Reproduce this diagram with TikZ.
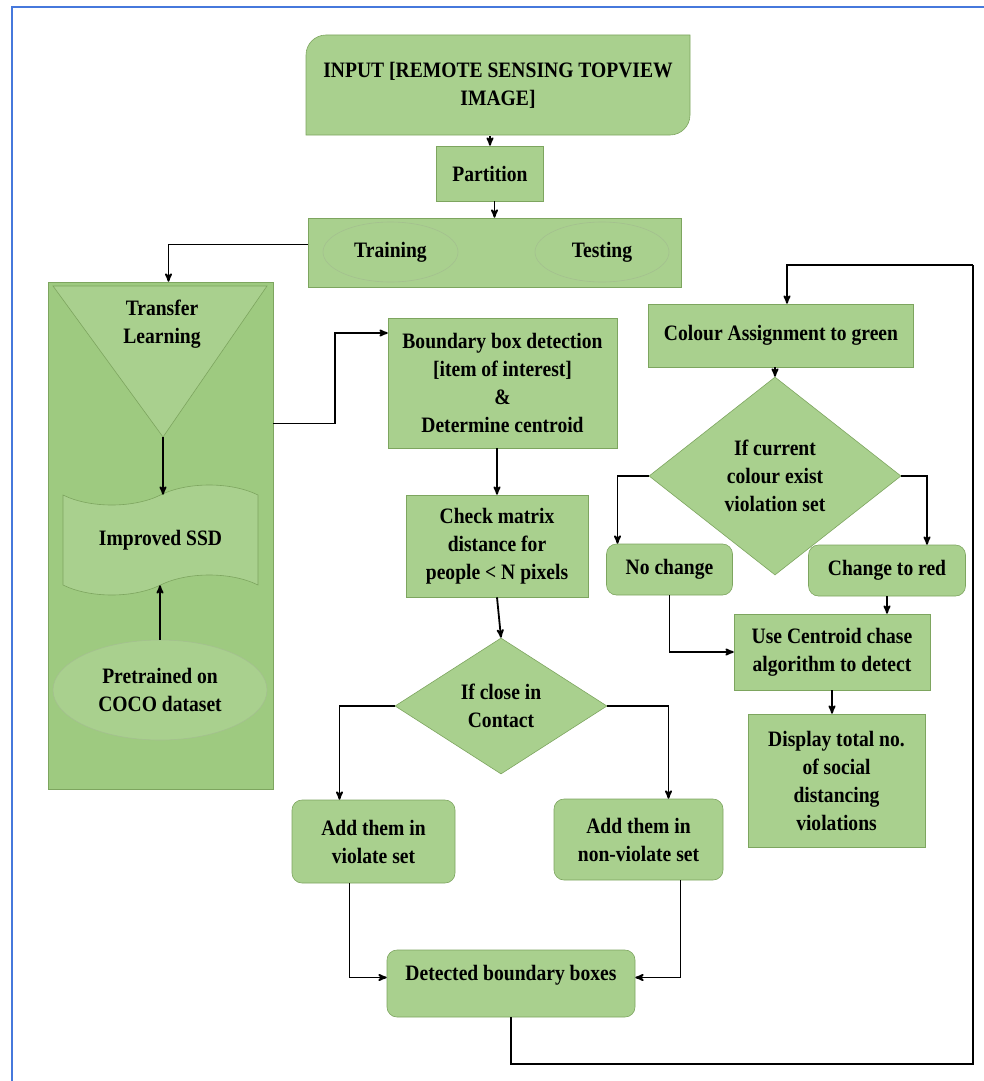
\documentclass[tikz,border=0pt]{standalone}
\usepackage{fontspec}
\setmainfont{Liberation Serif}[FakeStretch=0.89]
\usetikzlibrary{arrows,positioning,calc,shapes.geometric,shapes.symbols}
\definecolor{boxgreen}{RGB}{169,208,142}
\definecolor{bigrgreen}{RGB}{158,202,128}
\definecolor{edgegreen}{RGB}{125,165,95}
\definecolor{framecol}{RGB}{70,120,220}

\begin{document}
\begin{tikzpicture}[x=1pt, y=1pt, ->, >=stealth', line width=1.8pt]
\tikzstyle{every node}=[font=\bfseries\fontsize{22}{28}\selectfont, align=center, text=black]
\tikzstyle{box}=[draw=edgegreen, fill=boxgreen, line width=0.6pt, inner sep=2pt]
\tikzstyle{rbox}=[box, rounded corners=10pt]
\tikzstyle{oval}=[box, ellipse]
\tikzstyle{decide}=[box, diamond, inner sep=0pt]
\tikzstyle{greenfill}=[draw=edgegreen, fill=boxgreen, line width=0.6pt, -]
\tikzstyle{link}=[-]
\useasboundingbox (0,0) rectangle (984,-1081);
\draw[-, framecol, line width=2pt] (12,-1081) -- (12,-7) -- (984,-7);

% top part
\draw[greenfill] (306,-135) -- (306,-55) arc[start angle=180, end angle=90, radius=20]
  -- (690,-35) -- (690,-115) arc[start angle=0, end angle=-90, radius=20] -- cycle;
\node[minimum width=384, minimum height=100] (in) at (498,-85) {INPUT [REMOTE SENSING TOPVIEW\\IMAGE]};
\node[box, minimum width=107, minimum height=55] (part) at (490,-173.5) {Partition};
\node[box, minimum width=373, minimum height=69] (tt) at (494.5,-252.5) {};
\node[oval, draw=edgegreen!70, minimum width=135, minimum height=60] (train) at (390.5,-252) {Training};
\node[oval, draw=edgegreen!70, minimum width=134, minimum height=60] (test) at (602,-252) {Testing};

% left column
\node[box, fill=bigrgreen, minimum width=225, minimum height=507] (big) at (160.5,-535.5) {};
\draw[greenfill] (53,-286) -- (267,-286) -- (163,-437) -- cycle;
\coordinate (apex) at (163,-437);
\node (tl) at (162,-324) {Transfer\\Learning};
\node[box, tape, tape bend top=in and out, tape bend bottom=in and out, tape bend height=20,
  minimum width=195, minimum height=110] (ssd) at (160.5,-540) {Improved SSD};
\node[oval, draw=edgegreen!70, minimum width=214, minimum height=100] (pre) at (160,-690) {Pretrained on\\COCO dataset};

% middle column
\node[box, minimum width=229, minimum height=130] (bb) at (502.5,-383) {Boundary box detection\\{[item of interest]}\\\&\\Determine centroid};
\node[box, minimum width=182, minimum height=102] (chk) at (497,-546) {Check matrix\\distance for\\people < N pixels};
\node[decide, minimum width=212, minimum height=136] (d1) at (501,-706) {If close in\\Contact};
\node[rbox, minimum width=163, minimum height=83] (viol) at (373.5,-841.5) {Add them in\\violate set};
\node[rbox, minimum width=169, minimum height=81] (nonv) at (638.5,-839.5) {Add them in\\non-violate set};
\node[rbox, minimum width=248, minimum height=67, text depth=22pt] (det) at (511,-983.5) {Detected boundary boxes};

% right column
\node[box, minimum width=265, minimum height=63] (ca) at (781,-335.5) {Colour Assignment to green};
\node[decide, minimum width=252, minimum height=198] (d2) at (775,-476) {If current\\colour exist\\violation set};
\node[rbox, minimum width=126, minimum height=51] (nc) at (669.5,-569.5) {No change};
\node[rbox, minimum width=157, minimum height=51] (ctr) at (887,-570.5) {Change to red};
\node[box, minimum width=196, minimum height=76] (use) at (832,-652) {Use Centroid chase\\algorithm to detect};
\node[box, minimum width=177, minimum height=133] (disp) at (836.5,-780.5) {Display total no.\\of social\\distancing\\violations};

% connector ends
\coordinate (ttout) at ([yshift=8pt]tt.west);
\coordinate (bigin) at ([xshift=8pt]big.north);
\coordinate (bigout) at ([yshift=112pt]big.east);
\coordinate (bbin) at ([yshift=50pt]bb.west);
\coordinate (vin) at ([xshift=-34pt]viol.north);
\coordinate (nvin) at ([xshift=30pt]nonv.north);
\coordinate (vout) at ([xshift=-24pt]viol.south);
\coordinate (nvout) at ([xshift=42pt]nonv.south);
\coordinate (detl) at ([yshift=6pt]det.west);
\coordinate (detr) at ([yshift=6pt]det.east);
\coordinate (lb) at (973,-1064);
\coordinate (lt) at (973,-265);
\coordinate (cain) at ([xshift=6pt]ca.north);
\coordinate (ncin) at ([xshift=-52pt]nc.north);
\coordinate (ctrin) at ([xshift=40pt]ctr.north);

% connectors
\draw (in.south -| part.north) -- (part.north);
\draw (part.south -| tt.north) -- (tt.north);
\draw (ttout) -| (bigin);
\draw (apex) -- (apex |- ssd.north);
\draw (pre.north) -- (pre.north |- ssd.south);
\draw (bigout) -- ++(62,0) |- (bbin);
\draw (chk.north |- bb.south) -- (chk.north);
\draw (chk.south) -- (d1.north);
\draw (d1.west) -| (vin);
\draw (d1.east) -| (nvin);
\draw (vout) |- (detl);
\draw (nvout) |- (detr);
\draw[link] (det.south) |- (lb) -- (lt);
\draw (lt) -| (cain);
\draw (d2.north |- ca.south) -- (d2.north);
\draw (d2.west) -| (ncin);
\draw (d2.east) -| (ctrin);
\draw (ctr.south) -- (ctr.south |- use.north);
\draw (nc.south) |- (use.west);
\draw (use.south) -- (use.south |- disp.north);
\end{tikzpicture}
\end{document}
